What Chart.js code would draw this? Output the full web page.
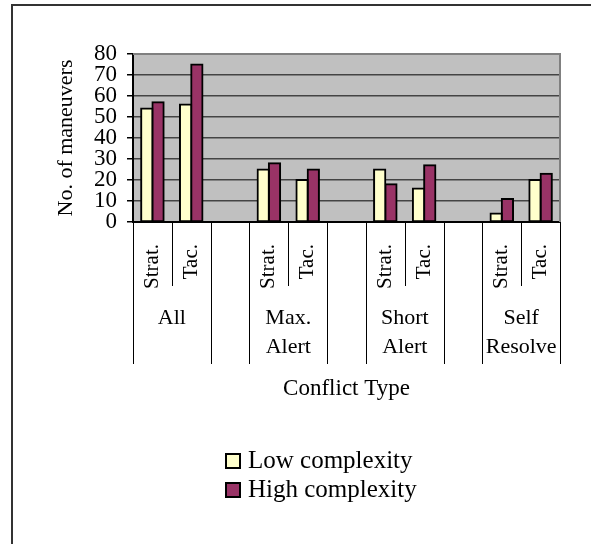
<!DOCTYPE html>
<html>
<head>
<meta charset="utf-8">
<title>No. of maneuvers by conflict type</title>
<script src="https://cdn.jsdelivr.net/npm/chart.js@4"></script>
<style>
    html, body { margin: 0; padding: 0; background: #fff; overflow: hidden; }
    #wrap { position: relative; width: 591px; height: 544px; }
    #frame {
        position: absolute; left: 11px; top: 4px; right: -10px; bottom: -10px;
        border-left: 2px solid #333; border-top: 2px solid #333;
        pointer-events: none;
    }
</style>
</head>
<body>
<div id="wrap">
    <canvas id="chart"></canvas>
    <div id="frame"></div>
</div>
<script>
// Chart data
const categories = ['Strat.', 'Tac.', '', 'Strat.', 'Tac.', '', 'Strat.', 'Tac.', '', 'Strat.', 'Tac.'];
const groupLabels = [['All'], ['Max.', 'Alert'], ['Short', 'Alert'], ['Self', 'Resolve']];
const lowComplexity = [54, 56, null, 25, 20, null, 25, 16, null, 4, 20];
const highComplexity = [57, 75, null, 28, 25, null, 18, 27, null, 11, 23];
const seriesNames = ['Low complexity', 'High complexity'];
const yMax = 80;
const yStep = 10;

const serif = "'Liberation Serif', 'Times New Roman', serif";
Chart.defaults.font.family = serif;
Chart.defaults.color = '#000';

// Grey plot area with a lighter top / right border
const plotBackground = {
    id: 'plotBackground',
    beforeDraw(chart) {
        const { ctx, chartArea: a } = chart;
        ctx.save();
        ctx.fillStyle = '#c0c0c0';
        ctx.fillRect(a.left, a.top, a.right - a.left, a.bottom - a.top);
        ctx.restore();
    },
    beforeDatasetsDraw(chart) {
        const { ctx, chartArea: a } = chart;
        ctx.save();
        ctx.strokeStyle = '#808080';
        ctx.lineWidth = 2;
        ctx.beginPath();
        ctx.moveTo(a.left, a.top);
        ctx.lineTo(a.right, a.top);
        ctx.lineTo(a.right, a.bottom);
        ctx.stroke();
        ctx.restore();
    }
};

// Divider lines and group names under the x axis
const groupAxis = {
    id: 'groupAxis',
    afterDraw(chart) {
        const { ctx } = chart;
        const x = chart.scales.x;
        const n = categories.length;
        const half = (x.getPixelForValue(1) - x.getPixelForValue(0)) / 2;
        ctx.save();
        ctx.strokeStyle = '#000';
        ctx.lineWidth = 1;
        for (let i = 0; i <= n; i++) {
            const px = i < n ? x.getPixelForValue(i) - half : x.getPixelForValue(n - 1) + half;
            const inside = i > 0 && i < n && categories[i - 1] !== '' && categories[i] !== '';
            const len = inside ? 64 : 142;
            const sx = Math.round(px) + 0.5;
            ctx.beginPath();
            ctx.moveTo(sx, x.top);
            ctx.lineTo(sx, x.top + len);
            ctx.stroke();
        }
        ctx.font = '22px ' + serif;
        ctx.fillStyle = '#000';
        ctx.textAlign = 'center';
        ctx.textBaseline = 'alphabetic';
        groupLabels.forEach((lines, g) => {
            const cx = (x.getPixelForValue(g * 3) + x.getPixelForValue(g * 3 + 1)) / 2;
            lines.forEach((line, k) => {
                ctx.fillText(line, cx, x.top + 102 + k * 29);
            });
        });
        ctx.restore();
    }
};

// Stacked legend below the axis title
const stackedLegend = {
    id: 'stackedLegend',
    afterDraw(chart) {
        const { ctx } = chart;
        const left = 225, top = 453, rowGap = 29, box = 16;
        ctx.save();
        ctx.font = '25px ' + serif;
        ctx.textAlign = 'left';
        ctx.textBaseline = 'alphabetic';
        chart.data.datasets.forEach((ds, i) => {
            const y = top + i * rowGap;
            ctx.fillStyle = ds.backgroundColor;
            ctx.fillRect(left, y, box, box);
            ctx.strokeStyle = '#000';
            ctx.lineWidth = 2;
            ctx.strokeRect(left + 1, y + 1, box - 2, box - 2);
            ctx.fillStyle = '#000';
            ctx.fillText(ds.label, left + 23, y + 14.5);
        });
        ctx.restore();
    }
};

const barStyle = {
    borderColor: '#000',
    borderWidth: 2,
    borderSkipped: false,
    inflateAmount: 1,
    categoryPercentage: 0.58,
    barPercentage: 1.0
};

new Chart(document.getElementById('chart').getContext('2d'), {
    type: 'bar',
    data: {
        labels: categories,
        datasets: [
            Object.assign({ label: seriesNames[0], data: lowComplexity, backgroundColor: '#ffffcc' }, barStyle),
            Object.assign({ label: seriesNames[1], data: highComplexity, backgroundColor: '#993366' }, barStyle)
        ]
    },
    options: {
        responsive: true,
        maintainAspectRatio: false,
        animation: false,
        layout: { padding: { left: 0, top: 54, right: 31, bottom: 139 } },
        plugins: {
            legend: { display: false },
            tooltip: { enabled: false }
        },
        scales: {
            y: {
                min: 0,
                max: yMax,
                afterFit(scale) { scale.width = 133; },
                ticks: {
                    stepSize: yStep,
                    autoSkip: false,
                    padding: 10,
                    color: '#000',
                    font: { size: 23 }
                },
                grid: {
                    color: ctx => (ctx.tick && ctx.tick.value === yMax ? '#808080' : '#444'),
                    lineWidth: 1.5,
                    tickColor: '#000',
                    tickLength: 6
                },
                border: { color: '#000', width: 2 },
                title: {
                    display: true,
                    text: 'No. of maneuvers',
                    color: '#000',
                    font: { size: 22 },
                    padding: { top: 53, bottom: 0 }
                }
            },
            x: {
                afterFit(scale) { scale.height = 183; },
                ticks: {
                    minRotation: 90,
                    maxRotation: 90,
                    autoSkip: false,
                    padding: 14,
                    color: '#000',
                    font: { size: 21 }
                },
                grid: { display: false },
                border: { color: '#000', width: 2 },
                title: {
                    display: true,
                    text: 'Conflict Type',
                    color: '#000',
                    font: { size: 23 },
                    padding: { top: 0, bottom: 2 }
                }
            }
        }
    },
    plugins: [plotBackground, groupAxis, stackedLegend]
});
</script>
</body>
</html>
